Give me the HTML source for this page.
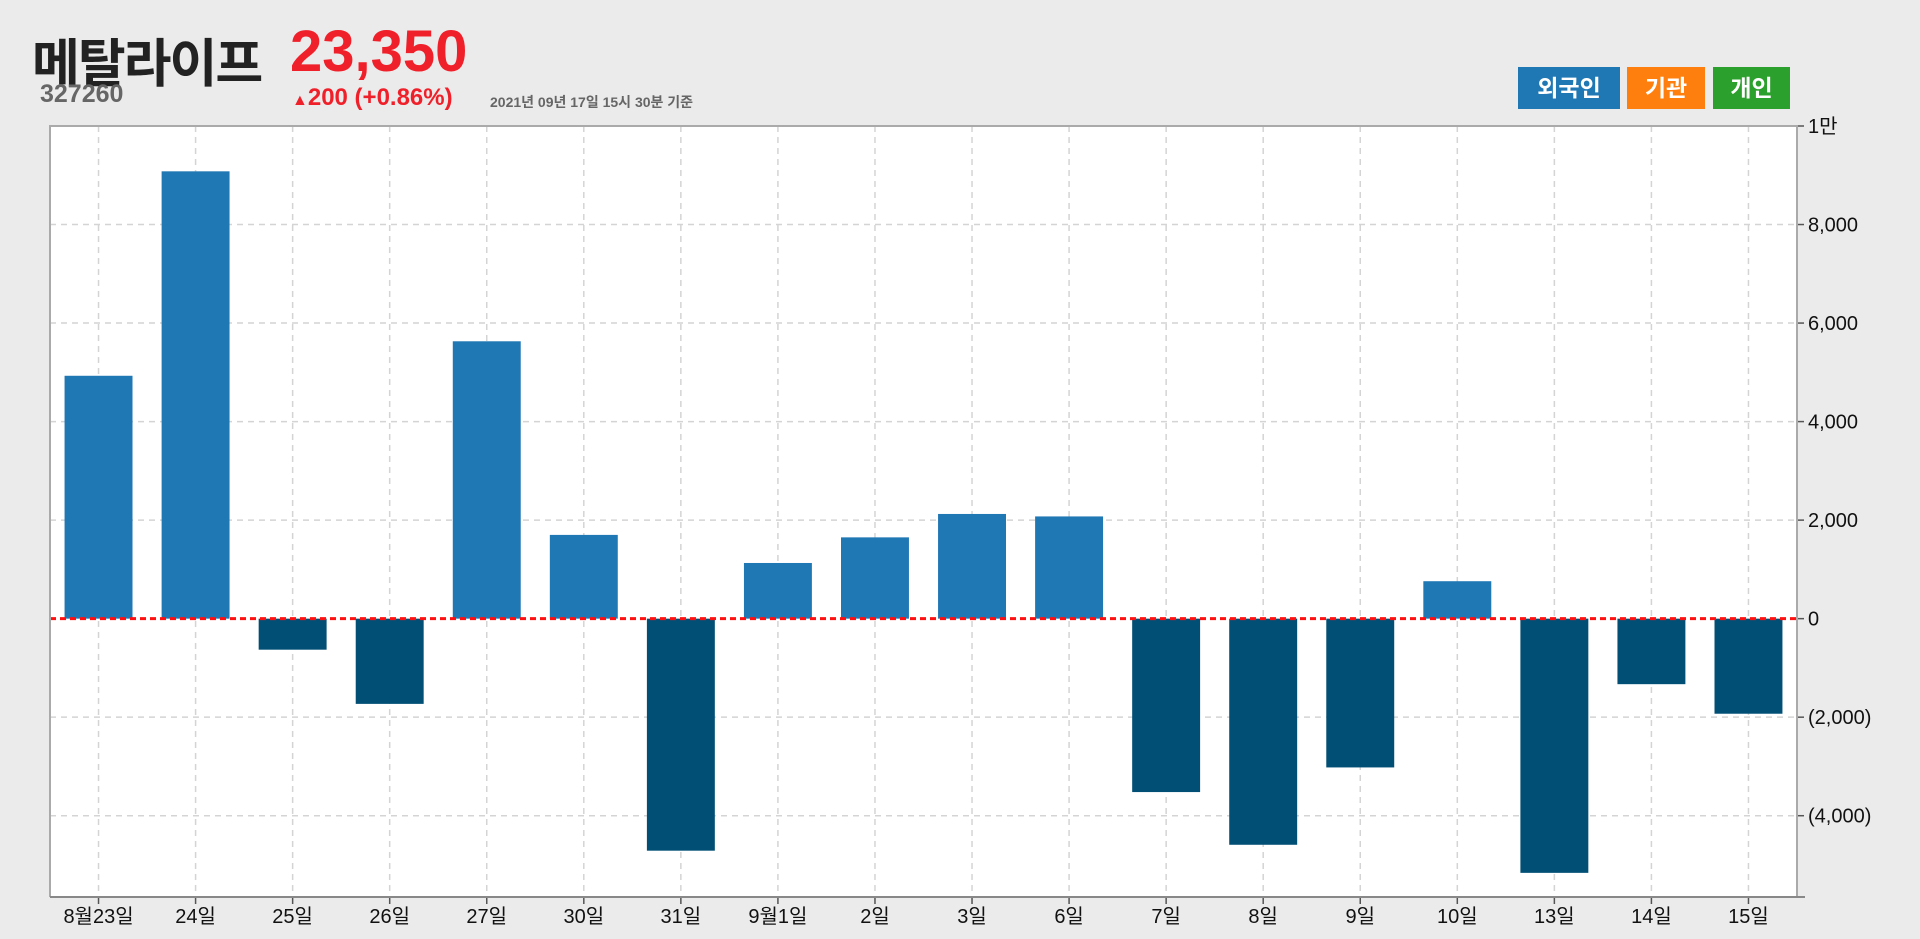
<!DOCTYPE html>
<html><head><meta charset="utf-8">
<style>
html,body{margin:0;padding:0;background:#ebebeb;width:1920px;height:939px;overflow:hidden;font-family:"Liberation Sans","Noto Sans CJK KR",sans-serif;}
.abs{position:absolute;white-space:nowrap;}
.btn{position:absolute;top:67px;height:42px;color:#fff;font-weight:bold;font-size:23px;line-height:42px;text-align:center;}
</style></head><body>
<div class="abs" style="left:32px;top:22px;font-size:52px;font-weight:bold;color:#222;letter-spacing:-2px;">메탈라이프</div>
<div class="abs" style="left:290px;top:18px;font-size:58px;font-weight:bold;color:#f0202a;">23,350</div>
<div class="abs" style="left:40px;top:80px;font-size:25px;font-weight:bold;color:#666;">327260</div>
<div class="abs" style="left:292px;top:84px;font-size:24px;font-weight:bold;color:#f0202a;"><span style="font-size:16px">▲</span>200 (+0.86%)</div>
<div class="abs" style="left:490px;top:92px;font-size:14px;font-weight:bold;color:#666;">2021년 09년 17일 15시 30분 기준</div>
<div class="btn" style="left:1518px;width:102px;background:#1f77b4;">외국인</div>
<div class="btn" style="left:1627px;width:78px;background:#ff7f0e;">기관</div>
<div class="btn" style="left:1713px;width:77px;background:#2ca02c;">개인</div>
<svg id="chart" width="1920" height="939" style="position:absolute;left:0;top:0"></svg>
<script>
const categories=["8월23일","24일","25일","26일","27일","30일","31일","9월1일","2일","3일","6일","7일","8일","9일","10일","13일","14일","15일"];
const values=[4930,9080,-630,-1730,5630,1700,-4710,1130,1650,2125,2075,-3520,-4590,-3020,760,-5160,-1330,-1930];
const tickValues=[10000,8000,6000,4000,2000,0,-2000,-4000];
const tickLabels=["1만","8,000","6,000","4,000","2,000","0","(2,000)","(4,000)"];
const L=50,R=1797,T=126,B=897,yMax=10000,yMin=-5650;
const NS="http://www.w3.org/2000/svg";
const svg=document.getElementById('chart');
const band=(R-L)/categories.length;
function x(i){return L+band*(i+0.5);}
function y(v){return T+(yMax-v)/(yMax-yMin)*(B-T);}
function mk(t,a,p){const e=document.createElementNS(NS,t);for(const k in a)e.setAttribute(k,a[k]);(p||svg).appendChild(e);return e;}
mk('rect',{x:L,y:T,width:R-L,height:B-T,fill:'#fff'});
categories.forEach((c,i)=>{
 const g=mk('line',{x1:x(i),x2:x(i),y1:T,y2:B,stroke:'#d4d4d4','stroke-width':1.5,'stroke-dasharray':'6,5'});
 
 
});
tickValues.forEach((v,i)=>{
 if(v!==0&&v!==yMax){const g=mk('line',{x1:L,x2:R,y1:y(v),y2:y(v),stroke:'#d4d4d4','stroke-width':1.5,'stroke-dasharray':'6,5'});
 
 }
 mk('line',{x1:R,x2:R+7,y1:y(v),y2:y(v),stroke:'#555','stroke-width':1.5});
 const t=mk('text',{x:R+11,y:y(v)+7,'font-size':20,fill:'#111','font-family':'Liberation Sans, Noto Sans CJK KR, sans-serif'});
 t.textContent=tickLabels[i];
 
 
});
values.forEach((v,i)=>{
 const w=band*0.7;
 const r=mk('rect',{x:x(i)-w/2,y:Math.min(y(v),y(0)),width:w,height:Math.abs(y(v)-y(0)),fill:v>=0?'#1f77b4':'#024f75'});
 
 
});
categories.forEach((c,i)=>{
 mk('line',{x1:x(i),x2:x(i),y1:B,y2:B+7,stroke:'#555','stroke-width':1.5});
 const t=mk('text',{x:x(i),y:B+26,'font-size':20,fill:'#111','text-anchor':'middle','font-family':'Liberation Sans, Noto Sans CJK KR, sans-serif'});
 t.textContent=c;
 
 
});
const z=mk('line',{x1:L,x2:R,y1:y(0),y2:y(0),stroke:'#ff1010','stroke-width':3,'stroke-dasharray':'6,4'});


mk('path',{d:`M${L},${B}V${T}H${R}V${B}`,fill:'none',stroke:'#aaa','stroke-width':2});
mk('line',{x1:L,x2:R+8,y1:B,y2:B,stroke:'#888','stroke-width':2});
</script>
</body></html>
